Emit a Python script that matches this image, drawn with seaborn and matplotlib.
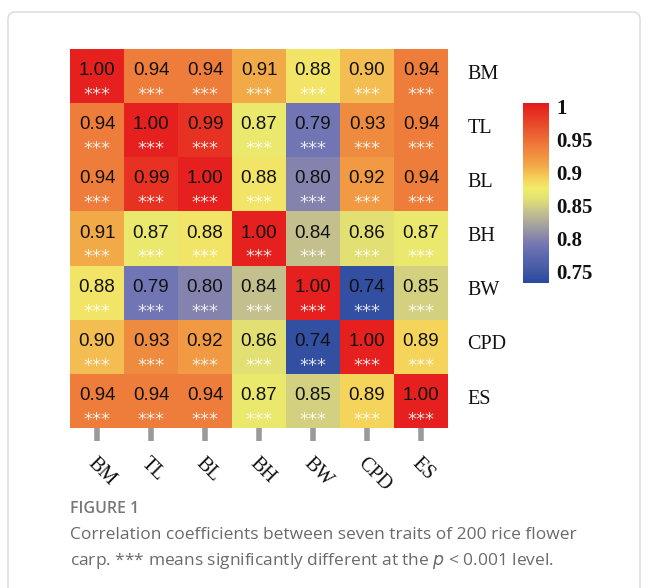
import numpy as np
import pandas as pd
import matplotlib
matplotlib.use("Agg")
import matplotlib.pyplot as plt
from matplotlib.colors import LinearSegmentedColormap
from matplotlib.patches import FancyBboxPatch
import seaborn as sns

traits = ["BM", "TL", "BL", "BH", "BW", "CPD", "ES"]
r_BM  = [1.00, 0.94, 0.94, 0.91, 0.88, 0.90, 0.94]
r_TL  = [0.94, 1.00, 0.99, 0.87, 0.79, 0.93, 0.94]
r_BL  = [0.94, 0.99, 1.00, 0.88, 0.80, 0.92, 0.94]
r_BH  = [0.91, 0.87, 0.88, 1.00, 0.84, 0.86, 0.87]
r_BW  = [0.88, 0.79, 0.80, 0.84, 1.00, 0.74, 0.85]
r_CPD = [0.90, 0.93, 0.92, 0.86, 0.74, 1.00, 0.89]
r_ES  = [0.94, 0.94, 0.94, 0.87, 0.85, 0.89, 1.00]
signif = "***"
cbar_ticks = [0.75, 0.8, 0.85, 0.9, 0.95, 1.0]
cbar_labels = ["0.75", "0.8", "0.85", "0.9", "0.95", "1"]

# colour stops (value, colour)
stop_vals = [0.733, 0.79, 0.80, 0.84, 0.86, 0.875, 0.89, 0.91, 0.94, 0.97, 1.005]
stop_cols = ["#2A4A9F", "#7275B3", "#8483AD", "#C4C18E", "#E2E072", "#F0EC6B",
             "#F5D45C", "#F2A948", "#EE7C3A", "#E94F2C", "#E41A1C"]

df = pd.DataFrame([r_BM, r_TL, r_BL, r_BH, r_BW, r_CPD, r_ES], index=traits, columns=traits)

sns.set_theme(style="white")
plt.rcParams['font.family'] = ['Liberation Sans', 'DejaVu Sans']

vmin, vmax = stop_vals[0], stop_vals[-1]
cmap = LinearSegmentedColormap.from_list(
    "byr", [((v - vmin) / (vmax - vmin), c) for v, c in zip(stop_vals, stop_cols)])

fig = plt.figure(figsize=(6.48, 5.88), dpi=100)
border = FancyBboxPatch((8/648, -0.05), 632/648, 1.05 - 12/588, boxstyle="round,pad=0,rounding_size=0.012",
                        transform=fig.transFigure, facecolor="none", edgecolor="#d9d9d9", linewidth=1.0,
                        zorder=-5)
fig.patches.append(border)

ax = fig.add_axes([70/648, 1 - 428/588, 378/648, 379/588])
cax = fig.add_axes([523/648, 1 - 283/588, 26/648, 180/588])

annot_num = df.map(lambda v: f"{v:.2f}")
sns.heatmap(df, ax=ax, cmap=cmap, vmin=vmin, vmax=vmax, annot=False, cbar=True, cbar_ax=cax,
            linewidths=0, square=False)

for i in range(len(traits)):
    for j in range(len(traits)):
        ax.text(j + 0.5, i + 0.40, annot_num.iloc[i, j], ha="center", va="center",
                fontsize=13.5, color="#111111", family=["Liberation Sans"])
        ax.text(j + 0.5, i + 0.85, signif, ha="center", va="center",
                fontsize=13, color="white", alpha=0.85, family=["DejaVu Sans"])

# right-side row labels
ax.yaxis.tick_right()
ax.set_yticks(np.arange(len(traits)) + 0.42)
ax.set_yticklabels(traits, rotation=0, family=["Liberation Serif"], fontsize=14.5, ha="left",
                   color="#111111")
ax.tick_params(axis="y", length=0, pad=14)

ax.set_xticks(np.arange(len(traits)) + 0.5)
ax.set_xticklabels(traits, rotation=-45, ha="left", rotation_mode="anchor",
                   family=["Liberation Serif"], fontsize=14.5, color="#111111")
ax.tick_params(axis="x", bottom=True, length=9, width=4, color="#9a9a9a", pad=10)
ax.set_xlabel("")
ax.set_ylabel("")

cax.set_ylim(vmin, vmax)
cax.set_yticks(cbar_ticks)
cax.set_yticklabels(cbar_labels, family=["Liberation Serif"], fontsize=15, fontweight="bold",
                    color="#111111")
cax.tick_params(axis="y", right=True, left=True, length=4, width=2, color="white", direction="in", pad=5)
for s in cax.spines.values():
    s.set_visible(False)

fig.text(70/648, 1 - 509/588, "FIGURE 1", ha="left", va="center", fontsize=11.5,
         color="#777777", family=["Open Sans"], fontweight="semibold")
fig.text(70/648, 1 - 535/588, "Correlation coefficients between seven traits of 200 rice flower",
         ha="left", va="center", fontsize=12.5, color="#6a6a6a", family=["Open Sans"])
fig.text(70/648, 1 - 561/588, "carp. *** means significantly different at the $p$ < 0.001 level.",
         ha="left", va="center", fontsize=12.5, color="#6a6a6a", family=["Open Sans"])

fig.savefig("out.png", dpi=100)
